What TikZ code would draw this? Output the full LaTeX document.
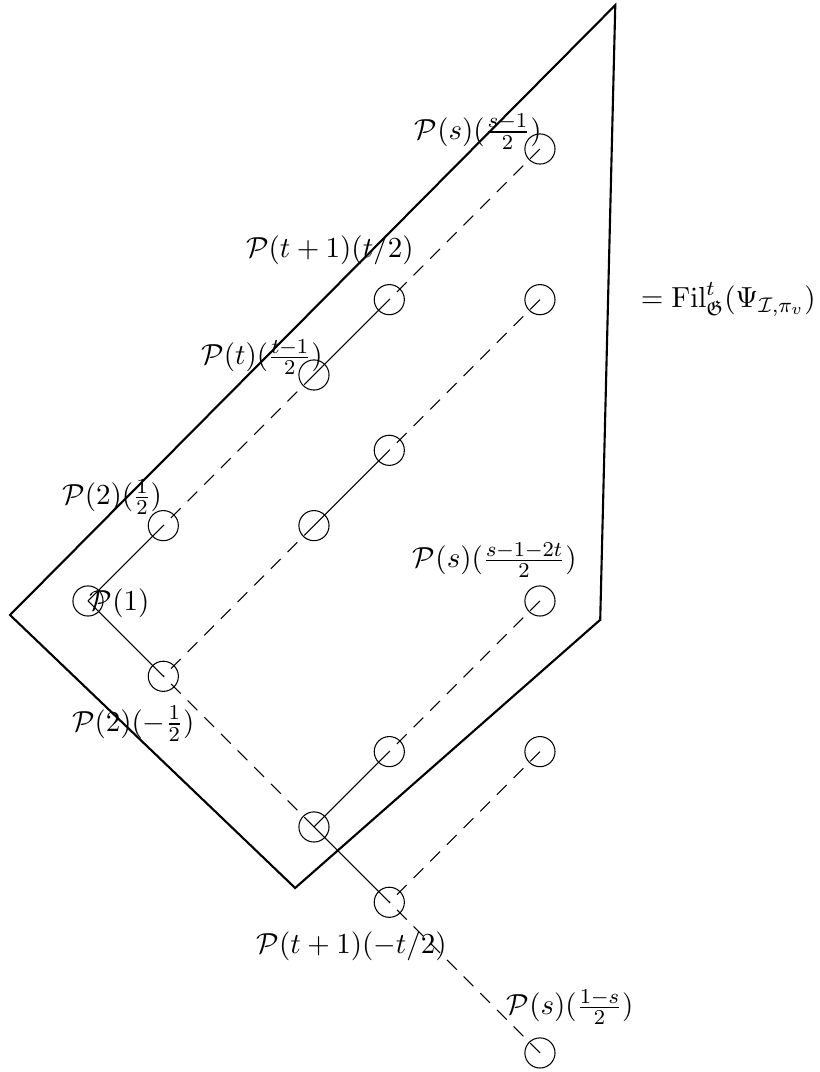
\documentclass[tikz,border=0pt]{standalone}
\usepackage{amsmath,amssymb}
\begin{document}
\begin{tikzpicture}[x=1cm,y=1cm,
  every node/.style={font=\fontsize{10.95}{13}\selectfont},
  dot/.style={circle,draw,inner sep=0pt,minimum size=0.4cm},
  lab/.style={inner sep=0pt},
  hull/.style={thick},
  solidlink/.style={},
  dashlink/.style={dash pattern=on 5.2pt off 3.7pt}]
\useasboundingbox (-1.168,-6.253) rectangle (9.717,7.978);
% nodes
\node[dot] (a00) at (0,0) {};
\node[dot] (a11) at (1,1) {};
\node[dot] (a1m1) at (1,-1) {};
\node[dot] (a33) at (3,3) {};
\node[dot] (a44) at (4,4) {};
\node[dot] (a66) at (6,6) {};
\node[dot] (a64) at (6,4) {};
\node[dot] (a42) at (4,2) {};
\node[dot] (a31) at (3,1) {};
\node[dot] (a60) at (6,0) {};
\node[dot] (a4m2) at (4,-2) {};
\node[dot] (a3m3) at (3,-3) {};
\node[dot] (a4m4) at (4,-4) {};
\node[dot] (a6m2) at (6,-2) {};
\node[dot] (a6m6) at (6,-6) {};
% links
\draw[solidlink] (a00.center) -- (a11.center);
\draw[dashlink] (a33.center) -- (a11.center);
\draw[solidlink] (a33.center) -- (a44.center);
\draw[dashlink] (a66.center) -- (a44.center);
\draw[solidlink] (a00.center) -- (a1m1.center);
\draw[dashlink] (a3m3.center) -- (a1m1.center);
\draw[solidlink] (a3m3.center) -- (a4m4.center);
\draw[dashlink] (a6m6.center) -- (a4m4.center);
\draw[dashlink] (a31.center) -- (a1m1.center);
\draw[solidlink] (a31.center) -- (a42.center);
\draw[dashlink] (a64.center) -- (a42.center);
\draw[solidlink] (a3m3.center) -- (a4m2.center);
\draw[dashlink] (a60.center) -- (a4m2.center);
\draw[dashlink] (a6m2.center) -- (a4m4.center);
% hull
\coordinate (h1) at (-1.035,-0.186);
\coordinate (h2) at (7.0,7.91);
\coordinate (h3) at (6.80,-0.25);
\coordinate (h4) at (2.75,-3.81);
\draw[hull] (h1) -- (h2) -- (h3) -- (h4) -- cycle;
% labels
\node[lab] (l1) at (5.18,6.23) {$\mathcal{P}(s)(\frac{s-1}{2})$};
\node[lab] (l2) at (3.21,4.66) {$\mathcal{P}(t+1)(t/2)$};
\node[lab] (l3) at (2.31,3.24) {$\mathcal{P}(t)(\frac{t-1}{2})$};
\node[lab] (l4) at (0.32,1.38) {$\mathcal{P}(2)(\frac{1}{2})$};
\node[lab] (l5) at (0.42,-0.03) {$\mathcal{P}(1)$};
\node[lab] (l6) at (5.4,0.54) {$\mathcal{P}(s)(\frac{s-1-2t}{2})$};
\node[lab] (l7) at (0.6,-1.63) {$\mathcal{P}(2)(-\frac{1}{2})$};
\node[lab] (l8) at (3.5,-4.59) {$\mathcal{P}(t+1)(-t/2)$};
\node[lab] (l9) at (6.4,-5.39) {$\mathcal{P}(s)(\frac{1-s}{2})$};
\node[lab] (l10) at (8.5,4.0) {$=\mathrm{Fil}^t_{\mathfrak{G}}(\Psi_{\mathcal{I},\pi_v})$};
\end{tikzpicture}
\end{document}
